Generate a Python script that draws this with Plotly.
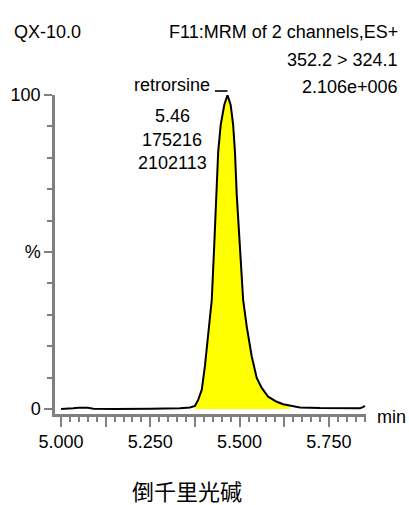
import plotly.graph_objects as go

# ---- data (time in min, relative intensity in %) ----
time_min = [5.000, 5.020, 5.034, 5.048, 5.076, 5.090, 5.150, 5.250, 5.333, 5.361,
            5.375, 5.384, 5.394, 5.403, 5.412, 5.422, 5.429, 5.436, 5.440, 5.447,
            5.457, 5.466, 5.475, 5.482, 5.487, 5.492, 5.501, 5.510, 5.520, 5.534,
            5.548, 5.562, 5.580, 5.604, 5.622, 5.641, 5.669, 5.725, 5.800, 5.837,
            5.845, 5.851]
intensity_pct = [0.0, 0.0, 0.2, 0.4, 0.4, 0.1, 0.0, 0.1, 0.2, 0.5,
                 1.0, 2.9, 6.1, 13.8, 24.5, 34.7, 52.2, 68.2, 81.9, 90.4,
                 96.8, 100.0, 96.8, 90.4, 81.9, 68.2, 52.2, 34.7, 26.2, 16.7,
                 9.9, 6.7, 3.9, 2.3, 1.5, 1.0, 0.5, 0.3, 0.2, 0.2,
                 0.6, 1.0]
integ_start, integ_end = 5.375, 5.645

peak_name = "retrorsine"
peak_labels = ["5.46", "175216", "2102113"]
header_left = "QX-10.0"
header_right = ["F11:MRM of 2 channels,ES+", "352.2 > 324.1", "2.106e+006"]
compound_cn = "倒千里光碱"

x_major = [5.0, 5.125, 5.25, 5.375, 5.5, 5.625, 5.75]
x_major_text = ["5.000", "", "5.250", "", "5.500", "", "5.750"]
y_tickvals = [0, 50, 100]
y_ticktext = ["0", "%", "100"]

FONT = "Liberation Sans, Arial, sans-serif"
GREY = "#808080"

fill_x = [t for t in time_min if integ_start <= t <= integ_end]
fill_y = [v for t, v in zip(time_min, intensity_pct) if integ_start <= t <= integ_end]

fig = go.Figure()
fig.add_trace(go.Scatter(x=fill_x, y=fill_y, mode="lines", fill="tozeroy",
                         fillcolor="#FFFF00", line=dict(width=0, color="#FFFF00"),
                         hoverinfo="skip", showlegend=False))
fig.add_trace(go.Scatter(x=time_min, y=intensity_pct, mode="lines",
                         line=dict(color="black", width=2), showlegend=False))

peak_idx = intensity_pct.index(max(intensity_pct))
peak_t = time_min[peak_idx]
label_x = 5.311

fig.add_shape(type="line", xref="x", yref="paper", x0=5.431, x1=peak_t,
              y0=1.0125, y1=1.0125, line=dict(color="black", width=1.6))

ann = []
ann.append(dict(x=label_x, y=1.031, xref="x", yref="paper", text=peak_name, showarrow=False,
                xanchor="center", yanchor="middle", font=dict(size=18, color="black", family=FONT)))
for yv, t in zip([93.3, 85.7, 78.3], peak_labels):
    ann.append(dict(x=label_x, y=yv, xref="x", yref="y", text=t, showarrow=False,
                    xanchor="center", yanchor="middle", font=dict(size=18, color="black", family=FONT)))
ann.append(dict(x=-0.138, y=1.197, xref="paper", yref="paper", text=header_left, showarrow=False,
                xanchor="left", yanchor="middle", font=dict(size=18, color="black", family=FONT)))
for yv, t in zip([1.197, 1.110, 1.025], header_right):
    ann.append(dict(x=1.109, y=yv, xref="paper", yref="paper", text=t, showarrow=False,
                    xanchor="right", yanchor="middle", font=dict(size=18, color="black", family=FONT)))
ann.append(dict(x=1.029, y=-0.0094, xref="paper", yref="paper", text="min", showarrow=False,
                xanchor="left", yanchor="middle", font=dict(size=18, color="black", family=FONT)))
ann.append(dict(x=0.424, y=-0.238, xref="paper", yref="paper", text=compound_cn, showarrow=False,
                xanchor="center", yanchor="middle", borderpad=0,
                font=dict(size=22, color="black", family="Noto Sans CJK SC")))

fig.update_layout(
    width=409, height=505, autosize=False,
    margin=dict(l=55, r=43, t=95, b=91, pad=0),
    paper_bgcolor="white", plot_bgcolor="white",
    showlegend=False, annotations=ann,
    font=dict(family=FONT, size=18, color="black"),
    xaxis=dict(range=[4.983, 5.854], showgrid=False, zeroline=False,
               showline=True, linecolor=GREY, linewidth=2.5,
               ticks="outside", tickvals=x_major, ticktext=x_major_text,
               ticklen=10, tickwidth=1.5, tickcolor=GREY,
               tickfont=dict(size=18, color="black", family=FONT),
               minor=dict(dtick=0.025, tick0=5.0, ticks="outside", ticklen=5,
                          tickwidth=1.5, tickcolor=GREY, showgrid=False)),
    yaxis=dict(range=[-1.6, 100], showgrid=False, zeroline=False,
               showline=True, linecolor=GREY, linewidth=2.5,
               ticks="outside", tickvals=y_tickvals, ticktext=y_ticktext,
               ticklen=8, tickwidth=1.5, tickcolor=GREY,
               tickfont=dict(size=18, color="black", family=FONT),
               minor=dict(dtick=10, tick0=0, ticks="outside", ticklen=5,
                          tickwidth=1.5, tickcolor=GREY, showgrid=False)),
)

fig.write_html("out.html")
